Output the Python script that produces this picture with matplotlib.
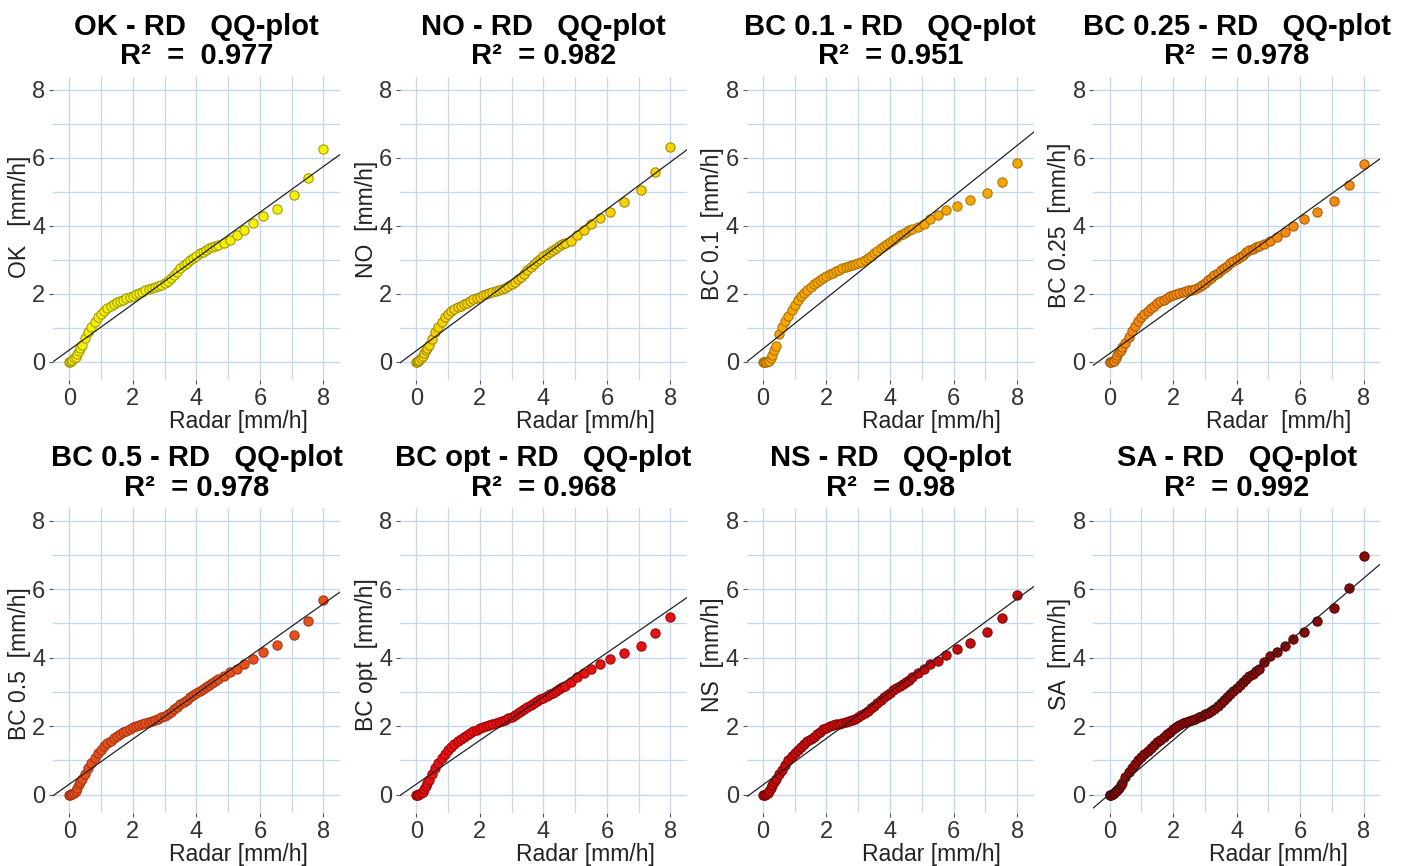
import matplotlib
matplotlib.use("Agg")
import matplotlib.pyplot as plt
from matplotlib.ticker import MultipleLocator

plt.rcParams['font.family'] = ['Liberation Sans', 'DejaVu Sans']

# ---------------- data ----------------
radar_q = [0.0, 0.03, 0.06, 0.1, 0.15, 0.2, 0.25, 0.3, 0.35, 0.4,
           0.5, 0.6, 0.7, 0.8, 0.9, 1.0, 1.1, 1.2, 1.3, 1.4, 1.5, 1.6, 1.7, 1.8, 1.9,
           2.0, 2.1, 2.2, 2.3, 2.4, 2.5, 2.6, 2.7, 2.8, 2.9, 3.0, 3.1, 3.2, 3.3, 3.4,
           3.5, 3.6, 3.7, 3.8, 3.9, 4.0, 4.1, 4.2, 4.3, 4.4, 4.5, 4.6,
           4.69, 4.87, 5.06, 5.27, 5.51, 5.77, 6.11, 6.53, 7.06, 7.52, 8.0]

ok_q = [0.0, 0.0, 0.02, 0.05, 0.1, 0.15, 0.22, 0.3, 0.4, 0.5,
        0.7, 0.88, 1.03, 1.17, 1.3, 1.41, 1.5, 1.57, 1.63, 1.69, 1.74, 1.78, 1.82, 1.86, 1.9,
        1.94, 1.98, 2.02, 2.06, 2.1, 2.13, 2.16, 2.19, 2.22, 2.26, 2.3, 2.37, 2.45, 2.55, 2.65,
        2.74, 2.83, 2.91, 2.99, 3.06, 3.12, 3.18, 3.23, 3.28, 3.33, 3.37, 3.41,
        3.44, 3.5, 3.59, 3.72, 3.87, 4.08, 4.27, 4.49, 4.9, 5.39, 6.25]

no_q = [0.0, 0.0, 0.02, 0.06, 0.12, 0.18, 0.25, 0.33, 0.4, 0.48,
        0.67, 0.86, 1.03, 1.18, 1.31, 1.41, 1.49, 1.55, 1.6, 1.65, 1.69, 1.73, 1.78, 1.83, 1.87,
        1.91, 1.95, 1.99, 2.02, 2.05, 2.09, 2.12, 2.15, 2.18, 2.22, 2.27, 2.34, 2.42, 2.5, 2.59,
        2.68, 2.77, 2.86, 2.95, 3.03, 3.1, 3.17, 3.23, 3.29, 3.35, 3.41, 3.47,
        3.5, 3.56, 3.72, 3.87, 4.04, 4.21, 4.41, 4.7, 5.06, 5.58, 6.31]

bc01_q = [0.0, 0.0, 0.0, 0.0, 0.01, 0.03, 0.1, 0.2, 0.33, 0.47,
          0.8, 1.03, 1.2, 1.35, 1.52, 1.67, 1.8, 1.92, 2.02, 2.11, 2.2, 2.28, 2.35, 2.41, 2.47,
          2.52, 2.57, 2.62, 2.66, 2.7, 2.74, 2.77, 2.8, 2.83, 2.86, 2.89, 2.93, 2.98, 3.04, 3.11,
          3.18, 3.26, 3.33, 3.4, 3.47, 3.53, 3.59, 3.65, 3.71, 3.76, 3.81, 3.86,
          3.9, 3.96, 4.06, 4.18, 4.31, 4.45, 4.58, 4.75, 4.96, 5.29, 5.85]

bc025_q = [0.0, 0.0, 0.0, 0.01, 0.03, 0.1, 0.2, 0.28, 0.35, 0.42,
           0.56, 0.72, 0.9, 1.05, 1.2, 1.31, 1.41, 1.5, 1.58, 1.65, 1.71, 1.77, 1.82, 1.87, 1.92,
           1.96, 2.0, 2.03, 2.06, 2.08, 2.1, 2.12, 2.15, 2.19, 2.24, 2.31, 2.39, 2.47, 2.54, 2.61,
           2.68, 2.75, 2.82, 2.89, 2.96, 3.03, 3.09, 3.15, 3.21, 3.27, 3.32, 3.37,
           3.41, 3.47, 3.55, 3.67, 3.82, 3.98, 4.18, 4.41, 4.72, 5.19, 5.8]

bc05_q = [0.0, 0.0, 0.01, 0.02, 0.05, 0.1, 0.2, 0.3, 0.37, 0.44,
          0.6, 0.76, 0.93, 1.08, 1.2, 1.31, 1.41, 1.5, 1.57, 1.64, 1.7, 1.76, 1.82, 1.87, 1.92,
          1.96, 2.0, 2.04, 2.07, 2.1, 2.13, 2.16, 2.18, 2.21, 2.25, 2.3, 2.36, 2.42, 2.49, 2.56,
          2.63, 2.7, 2.77, 2.84, 2.91, 2.97, 3.03, 3.09, 3.15, 3.2, 3.26, 3.31,
          3.36, 3.46, 3.57, 3.67, 3.81, 3.96, 4.16, 4.37, 4.65, 5.08, 5.67]

bcopt_q = [0.0, 0.0, 0.0, 0.01, 0.03, 0.08, 0.15, 0.25, 0.35, 0.43,
           0.6, 0.77, 0.92, 1.06, 1.18, 1.29, 1.38, 1.47, 1.55, 1.62, 1.68, 1.74, 1.8, 1.85, 1.89,
           1.93, 1.97, 2.0, 2.03, 2.06, 2.09, 2.12, 2.15, 2.19, 2.23, 2.27, 2.32, 2.38, 2.44, 2.5,
           2.56, 2.62, 2.68, 2.73, 2.78, 2.83, 2.88, 2.93, 2.98, 3.03, 3.08, 3.13,
           3.18, 3.3, 3.44, 3.54, 3.66, 3.81, 3.95, 4.13, 4.34, 4.72, 5.18]

ns_q = [0.0, 0.0, 0.0, 0.02, 0.05, 0.1, 0.18, 0.27, 0.37, 0.45,
        0.6, 0.73, 0.87, 1.01, 1.12, 1.22, 1.31, 1.4, 1.48, 1.55, 1.62, 1.69, 1.77, 1.84, 1.9,
        1.95, 1.99, 2.02, 2.05, 2.07, 2.09, 2.12, 2.15, 2.18, 2.22, 2.27, 2.33, 2.39, 2.45, 2.52,
        2.6, 2.68, 2.76, 2.84, 2.91, 2.98, 3.05, 3.12, 3.18, 3.24, 3.3, 3.35,
        3.42, 3.54, 3.66, 3.8, 3.9, 4.08, 4.25, 4.44, 4.74, 5.16, 5.84]

sa_q = [0.0, 0.0, 0.0, 0.02, 0.05, 0.09, 0.14, 0.2, 0.27, 0.35,
        0.5, 0.65, 0.78, 0.9, 1.0, 1.09, 1.18, 1.27, 1.36, 1.44, 1.52, 1.6, 1.68, 1.76, 1.84,
        1.92, 1.98, 2.03, 2.08, 2.12, 2.16, 2.19, 2.22, 2.26, 2.3, 2.34, 2.39, 2.45, 2.51, 2.58,
        2.66, 2.75, 2.84, 2.93, 3.02, 3.11, 3.2, 3.29, 3.37, 3.45, 3.53, 3.6,
        3.67, 3.88, 4.05, 4.16, 4.33, 4.53, 4.75, 5.07, 5.46, 6.03, 6.96]

products = ["OK", "NO", "BC 0.1", "BC 0.25", "BC 0.5", "BC opt", "NS", "SA"]
product_q = [ok_q, no_q, bc01_q, bc025_q, bc05_q, bcopt_q, ns_q, sa_q]
r2_labels = ["R²  =  0.977", "R²  = 0.982", "R²  = 0.951", "R²  = 0.978",
             "R²  = 0.978", "R²  = 0.968", "R²  = 0.98", "R²  = 0.992"]
ylabels = ["OK   [mm/h]", "NO  [mm/h]", "BC 0.1  [mm/h]", "BC 0.25  [mm/h]",
           "BC 0.5  [mm/h]", "BC opt  [mm/h]", "NS  [mm/h]", "SA  [mm/h]"]
xlabels = ["Radar [mm/h]", "Radar [mm/h]", "Radar [mm/h]", "Radar  [mm/h]",
           "Radar [mm/h]", "Radar [mm/h]", "Radar [mm/h]", "Radar [mm/h]"]
line_intercept = [0.34, 0.318, 0.374, 0.236, 0.30, 0.30, 0.28, 0.01]
line_slope = [0.675, 0.694, 0.748, 0.673, 0.659, 0.64, 0.68, 0.789]
ticks = [0, 2, 4, 6, 8]

# ---------------- styles / layout ----------------
fills = ['#f4f000', '#f6d400', '#f6a600', '#f38a12', '#e6501c', '#e41212', '#c60b0b', '#8a0a0a']
edges = ['#9a9200', '#9c8000', '#a86c00', '#a35600', '#a03010', '#9a0000', '#7a0000', '#4e0000']
ylabel_y = [0.54, 0.53, 0.515, 0.51, 0.49, 0.52, 0.52, 0.52]

W, H = 1401, 866
fig = plt.figure(figsize=(W / 100, H / 100), dpi=100)
lefts = [53, 400, 746.7, 1093.3]
rows = [(77, 380), (508, 813)]
grid_c = '#c5d8ef'

xmin, xmax = -0.51, 8.52
ymin, ymax = -0.54, 8.37

for i, name in enumerate(products):
    r, c = divmod(i, 4)
    top, bot = rows[r]
    ax = fig.add_axes([lefts[c] / W, 1 - bot / H, 287 / W, (bot - top) / H])
    ax.set_xlim(xmin, xmax)
    ax.set_ylim(ymin, ymax)
    ax.xaxis.set_minor_locator(MultipleLocator(1))
    ax.yaxis.set_minor_locator(MultipleLocator(1))
    ax.set_xticks(ticks)
    ax.set_yticks(ticks)
    ax.grid(True, which='major', color=grid_c, lw=1.0)
    ax.grid(True, which='minor', color=grid_c, lw=0.9)
    ax.set_axisbelow(True)
    for s in ax.spines.values():
        s.set_visible(False)
    ax.tick_params(which='major', length=3, width=0.8, color='#555555',
                   labelsize=17, labelcolor='#333333', pad=2.5)
    ax.tick_params(which='minor', length=0)

    ax.scatter(radar_q, product_q[i], s=45, color=fills[i], edgecolor=edges[i],
               linewidth=0.7, zorder=3)
    ax.axline((0, line_intercept[i]), slope=line_slope[i], color='#222222', lw=0.9, zorder=4)

    ax.set_xlabel(xlabels[i], fontsize=16.5, color='#222222')
    ax.xaxis.set_label_coords(0.645, -0.100)
    ax.set_ylabel(ylabels[i], fontsize=16.5, color='#222222')
    ax.yaxis.set_label_coords(-0.078, ylabel_y[i])

    ax.set_title(f"{name} - RD   QQ-plot\n{r2_labels[i]}", fontsize=21,
                 fontweight='bold', pad=9, linespacing=1.06)

fig.savefig("out.png", dpi=100)
